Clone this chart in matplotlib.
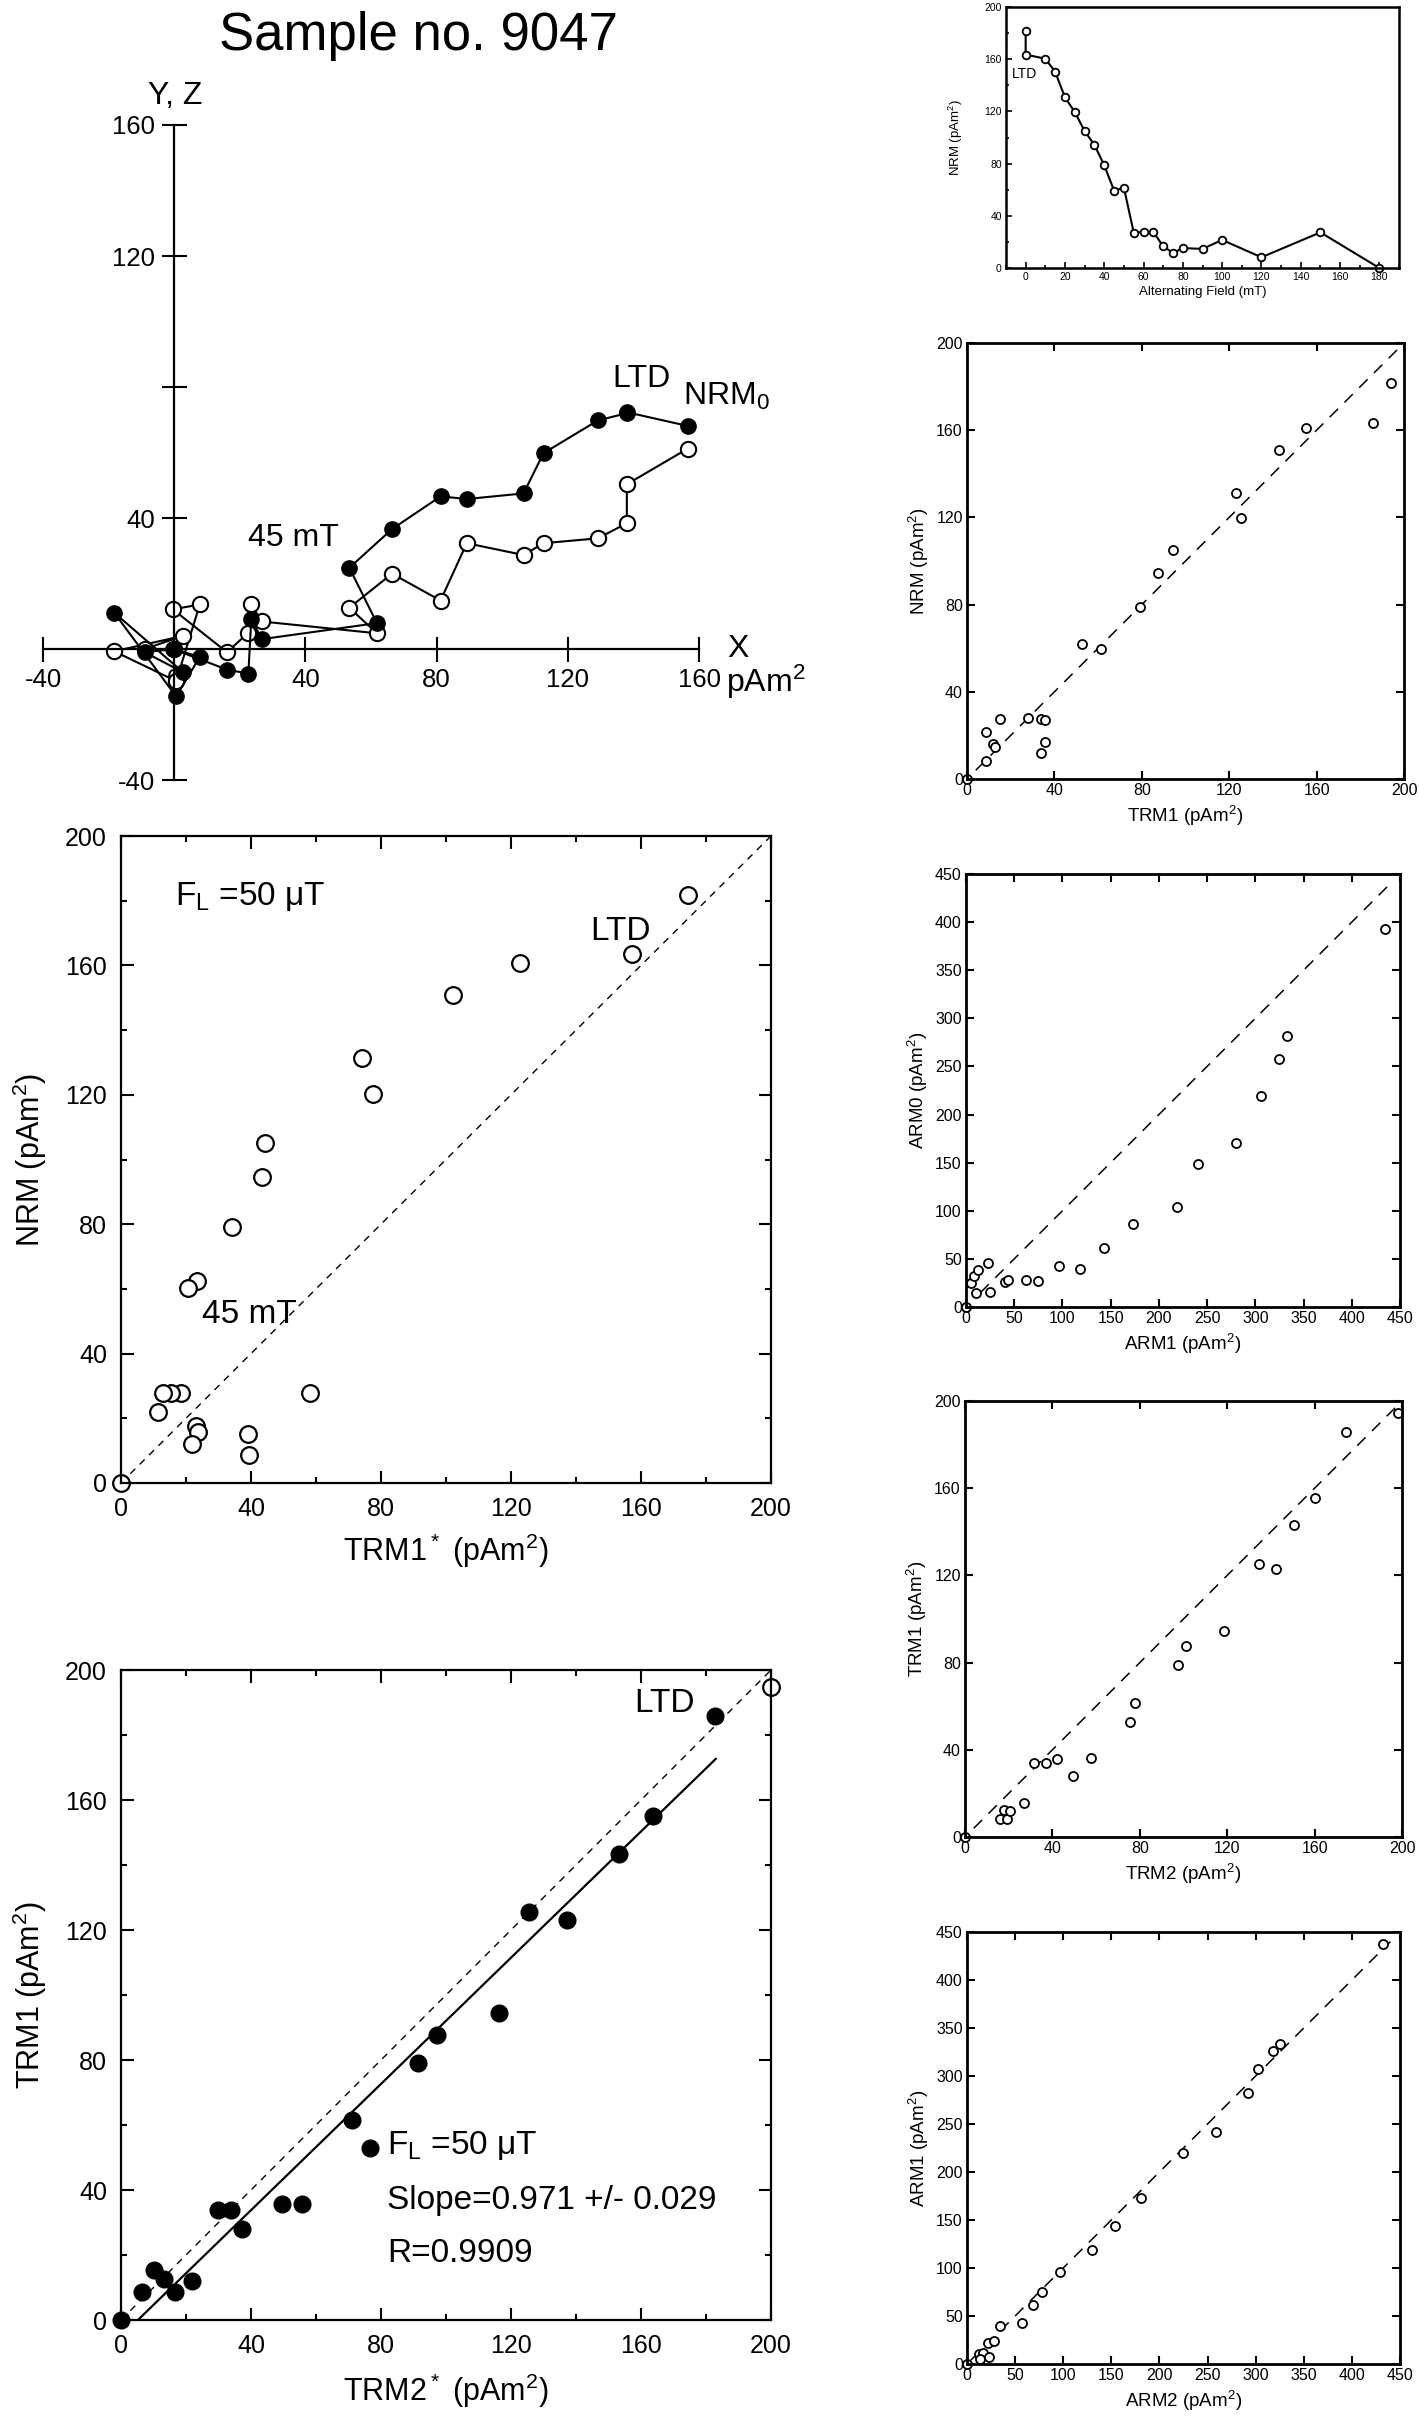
import matplotlib
matplotlib.use("Agg")
import matplotlib.pyplot as plt
from matplotlib.ticker import MultipleLocator

plt.rcParams['font.family'] = ['Liberation Sans', 'DejaVu Sans']
plt.rcParams['mathtext.default'] = 'regular'
plt.rcParams['lines.scale_dashes'] = False

# ---------------- datos ----------------
# Zijderveld (pAm2): X horizontal, Y (llenos), Z (abiertos)
zij_x = [156.6, 138.0, 138.0, 129.2, 112.6, 106.5, 89.2, 81.2, 66.4, 53.4, 61.8,
         26.7, 23.5, 22.6, 16.1, -0.4, 7.8, 0.6, -18.3, 2.7, -9.0, 0.0]
zij_y = [68.1, 72.3, 72.0, 69.8, 59.8, 47.5, 45.8, 46.6, 36.6, 24.8, 7.9,
         3.0, 9.1, -7.5, -6.3, 0.0, -2.4, -14.5, 11.1, -7.1, -1.0, 0.0]
zij_z = [61.2, 50.3, 38.4, 33.8, 32.3, 28.7, 32.3, 14.8, 23.0, 12.6, 4.8,
         8.4, 13.6, 5.0, -1.0, 12.1, 13.6, -9.8, -0.7, 4.0, 0.0, 0.0]

# desmagnetizacion AF
af_field = [0, 0, 10, 15, 20, 25, 30, 35, 40, 45, 50, 55, 60, 65, 70, 75, 80, 90, 100, 120, 150, 180]
af_nrm = [181.6, 163.5, 160.4, 150.4, 130.8, 119.5, 105.0, 94.3, 78.7, 59.3, 61.6,
          27.1, 27.6, 27.6, 16.6, 11.5, 15.3, 14.6, 21.5, 8.2, 27.3, 0.0]

# NRM vs TRM1*
p2_trm1 = [174.5, 157.2, 122.8, 102.1, 74.2, 77.5, 44.2, 43.5, 34.1, 23.4, 20.7,
           58.2, 18.5, 15.4, 12.8, 11.5, 23.1, 23.8, 21.7, 39.0, 39.4, 0.0]
p2_nrm = [181.8, 163.4, 160.8, 150.8, 131.3, 120.2, 105.2, 94.5, 79.2, 62.3, 60.3,
          27.8, 27.8, 27.8, 27.8, 21.8, 17.6, 15.7, 12.2, 15.0, 8.7, 0.0]

# TRM1 vs TRM2*
p3_trm2 = [0.0, 6.6, 10.1, 13.2, 16.7, 21.8, 29.8, 33.8, 37.3, 49.6, 55.6, 71.0,
           76.7, 91.3, 97.3, 116.3, 125.5, 137.1, 153.3, 163.7, 182.8]
p3_trm1 = [0.0, 8.7, 15.3, 12.7, 8.7, 11.9, 33.8, 33.8, 28.0, 35.7, 35.7, 61.4,
           53.0, 79.2, 87.6, 94.4, 125.4, 123.2, 143.3, 155.2, 186.0]
p3_open_x = [200.0]
p3_open_y = [194.8]
fit_slope = 0.971
fit_x0 = 5.2
fit_x1 = 183.0

# NRM vs TRM1
r2_trm1 = [0.0, 8.7, 8.7, 11.9, 12.7, 15.2, 27.9, 33.8, 35.8, 33.8, 35.8, 52.6,
           61.3, 79.0, 87.5, 94.2, 123.0, 125.3, 143.0, 155.2, 185.7, 194.1]
r2_nrm = [0.0, 8.4, 21.4, 15.9, 14.7, 27.5, 27.8, 27.5, 27.2, 11.9, 16.8, 62.0,
          59.7, 79.0, 94.4, 105.1, 131.2, 119.6, 150.8, 160.9, 163.3, 181.7]

# ARM0 vs ARM1
r3_arm1 = [0.0, 5.5, 8.6, 12.1, 22.8, 10.7, 25.2, 40.1, 43.2, 61.8, 74.9, 96.7,
           118.4, 143.0, 173.0, 218.6, 240.7, 280.4, 305.9, 324.6, 332.5, 434.7]
r3_arm0 = [0.0, 24.9, 31.8, 38.1, 45.7, 14.5, 15.9, 26.3, 28.0, 28.0, 27.0, 42.9,
           39.8, 61.6, 85.8, 104.2, 148.8, 170.0, 219.1, 257.5, 282.1, 392.5]

# TRM1 vs TRM2
r4_trm2 = [0.0, 15.9, 19.1, 17.9, 20.6, 26.9, 31.6, 37.1, 42.1, 49.2, 57.6, 75.6,
           77.6, 97.6, 101.2, 118.5, 134.7, 142.4, 150.8, 160.3, 174.5, 198.3]
r4_trm1 = [0.0, 8.4, 8.4, 12.5, 11.8, 15.4, 33.9, 33.9, 35.9, 27.8, 36.1, 52.6,
           61.4, 79.1, 87.5, 94.3, 125.4, 123.1, 143.0, 155.4, 185.9, 194.3]

# ARM1 vs ARM2
r5_arm2 = [0.0, 12.1, 16.6, 13.8, 22.5, 21.5, 27.7, 34.6, 56.8, 68.9, 77.5, 96.2,
           129.5, 153.3, 181.0, 224.3, 258.9, 292.1, 302.2, 318.4, 325.7, 432.3]
r5_arm1 = [0.0, 10.1, 11.9, 4.7, 7.6, 22.1, 24.3, 39.8, 42.4, 61.9, 74.9, 96.3,
           118.4, 143.4, 173.4, 219.8, 241.5, 282.0, 307.4, 325.9, 333.5, 437.0]

W, H = 1419, 2424
fig = plt.figure(figsize=(W / 100, H / 100), dpi=100)


def caja(l, t, r, b):
    # rectangulo en pixeles -> fraccion de figura
    return [l / W, 1 - b / H, (r - l) / W, (b - t) / H]


fig.text(418 / W, 1 - 50 / H, 'Sample no. 9047', fontsize=38, ha='center', va='baseline')

# ---------------- Zijderveld ----------------
az = fig.add_axes(caja(43, 125, 699, 780))
az.set_xlim(-40, 160)
az.set_ylim(-40, 160)
az.patch.set_visible(False)
for s in ['top', 'right']:
    az.spines[s].set_visible(False)
for s in ['left', 'bottom']:
    az.spines[s].set_position(('data', 0))
    az.spines[s].set_linewidth(1.6)
az.set_xticks([-40, 0, 40, 80, 120, 160])
az.set_xticklabels(['-40', '0', '40', '80', '120', '160'])
az.set_yticks([-40, 40, 80, 120, 160])
az.set_yticklabels(['-40', '40', '', '120', '160'])
az.tick_params(direction='inout', length=18, width=1.5, labelsize=18.5, pad=5)
az.plot(zij_x, zij_z, '-o', color='k', lw=1.5, ms=11, mfc='white', mec='k', mew=1.5, clip_on=False)
az.plot(zij_x, zij_y, '-o', color='k', lw=1.5, ms=11, mfc='k', mec='k', clip_on=False)
az.text(0.3, 166.5, 'Y, Z', fontsize=23, ha='center', va='baseline')
az.text(168.5, 0, 'X', fontsize=23, ha='left', va='center')
az.text(168.3, -13, 'pAm$^2$', fontsize=23, ha='left', va='baseline')
az.text(142.4, 80, 'LTD', fontsize=23, ha='center', va='baseline')
az.text(155.2, 74.4, 'NRM$_0$', fontsize=23, ha='left', va='baseline')
az.text(22.6, 31.4, '45 mT', fontsize=23, ha='left', va='baseline')


def estilo_grande(a):
    a.set_xlim(0, 200)
    a.set_ylim(0, 200)
    a.xaxis.set_major_locator(MultipleLocator(40))
    a.yaxis.set_major_locator(MultipleLocator(40))
    a.xaxis.set_minor_locator(MultipleLocator(20))
    a.yaxis.set_minor_locator(MultipleLocator(20))
    a.tick_params(which='both', direction='in', top=True, right=True, width=1.5)
    a.tick_params(which='major', length=9, labelsize=18, pad=10)
    a.tick_params(which='minor', length=4.5)
    for s in a.spines.values():
        s.set_linewidth(1.6)


# ---------------- NRM vs TRM1* ----------------
a2 = fig.add_axes(caja(121, 836, 771, 1483))
estilo_grande(a2)
a2.plot([0, 200], [0, 200], color='k', lw=1.0, ls=(0, (5, 4.5)))
a2.plot(p2_trm1, p2_nrm, 'o', ms=12, mfc='white', mec='k', mew=1.6, clip_on=False)
a2.set_xlabel('TRM1$^*$ (pAm$^2$)', fontsize=22, labelpad=8)
a2.set_ylabel('NRM (pAm$^2$)', fontsize=22, labelpad=12)
a2.text(16.5, 178.7, 'F$_L$ =50 μT', fontsize=24, ha='left', va='baseline')
a2.text(153.8, 168, 'LTD', fontsize=24, ha='center', va='baseline')
a2.text(24.9, 49.6, '45 mT', fontsize=24, ha='left', va='baseline')

# ---------------- TRM1 vs TRM2* ----------------
a3 = fig.add_axes(caja(121, 1670, 771, 2320))
estilo_grande(a3)
a3.plot([0, 200], [0, 200], color='k', lw=1.0, ls=(0, (5, 4.5)))
a3.plot([fit_x0, fit_x1], [0, fit_slope * (fit_x1 - fit_x0)], color='k', lw=1.6)
a3.plot(p3_trm2, p3_trm1, 'o', ms=12, mfc='k', mec='k', clip_on=False)
a3.plot(p3_open_x, p3_open_y, 'o', ms=12, mfc='white', mec='k', mew=1.6, clip_on=False)
a3.set_xlabel('TRM2$^*$ (pAm$^2$)', fontsize=22, labelpad=10)
a3.set_ylabel('TRM1 (pAm$^2$)', fontsize=22, labelpad=12)
a3.text(176.6, 187, 'LTD', fontsize=24, ha='right', va='baseline')
a3.text(81.9, 51, 'F$_L$ =50 μT', fontsize=24, ha='left', va='baseline')
a3.text(81.9, 34.1, 'Slope=0.971 +/- 0.029', fontsize=24, ha='left', va='baseline')
a3.text(81.9, 17.7, 'R=0.9909', fontsize=24, ha='left', va='baseline')

# ---------------- columna derecha ----------------
a1 = fig.add_axes(caja(1006, 7, 1399, 268))
a1.plot(af_field, af_nrm, '-o', color='k', lw=1.5, ms=5.5, mfc='white', mec='k', mew=1.3, clip_on=False)
a1.set_xlim(-10, 190)
a1.set_ylim(0, 200)
a1.xaxis.set_major_locator(MultipleLocator(20))
a1.xaxis.set_minor_locator(MultipleLocator(10))
a1.yaxis.set_major_locator(MultipleLocator(40))
a1.yaxis.set_minor_locator(MultipleLocator(20))
a1.tick_params(which='both', direction='in', width=1.2, labelsize=7.5, pad=3)
a1.tick_params(which='major', length=4)
a1.tick_params(which='minor', length=2.5)
for s in a1.spines.values():
    s.set_linewidth(1.8)
a1.set_xlabel('Alternating Field (mT)', fontsize=9.5, labelpad=3)
a1.set_ylabel('NRM (pAm$^2$)', fontsize=9.5, labelpad=14)
a1.text(-7, 149, 'LTD', fontsize=10, ha='left', va='center')


def panel_chico(rect, x, y, lim, paso, xlabel, ylabel, linea):
    a = fig.add_axes(caja(*rect))
    a.plot(linea, linea, color='k', lw=1.1, ls=(0, (8.5, 6.5)))
    a.plot(x, y, 'o', ms=6.5, mfc='white', mec='k', mew=1.3, clip_on=False)
    a.set_xlim(0, lim)
    a.set_ylim(0, lim)
    a.xaxis.set_major_locator(MultipleLocator(paso))
    a.yaxis.set_major_locator(MultipleLocator(paso))
    a.tick_params(direction='in', top=True, right=True, length=6, width=1.5,
                  labelsize=11.5, pad=3)
    for s in a.spines.values():
        s.set_linewidth(2)
    a.set_xlabel(xlabel, fontsize=13.5, labelpad=4)
    a.set_ylabel(ylabel, fontsize=13.5, labelpad=4)
    return a


panel_chico((967, 343, 1404, 779), r2_trm1, r2_nrm, 200, 40,
            'TRM1 (pAm$^2$)', 'NRM (pAm$^2$)', [4, 200])
panel_chico((966, 874, 1400, 1307), r3_arm1, r3_arm0, 450, 50,
            'ARM1 (pAm$^2$)', 'ARM0 (pAm$^2$)', [15, 442])
panel_chico((965, 1401, 1402, 1837), r4_trm2, r4_trm1, 200, 40,
            'TRM2 (pAm$^2$)', 'TRM1 (pAm$^2$)', [4, 198])
panel_chico((967, 1932, 1400, 2364), r5_arm2, r5_arm1, 450, 50,
            'ARM2 (pAm$^2$)', 'ARM1 (pAm$^2$)', [4, 440])

fig.savefig('out.png', dpi=100)
